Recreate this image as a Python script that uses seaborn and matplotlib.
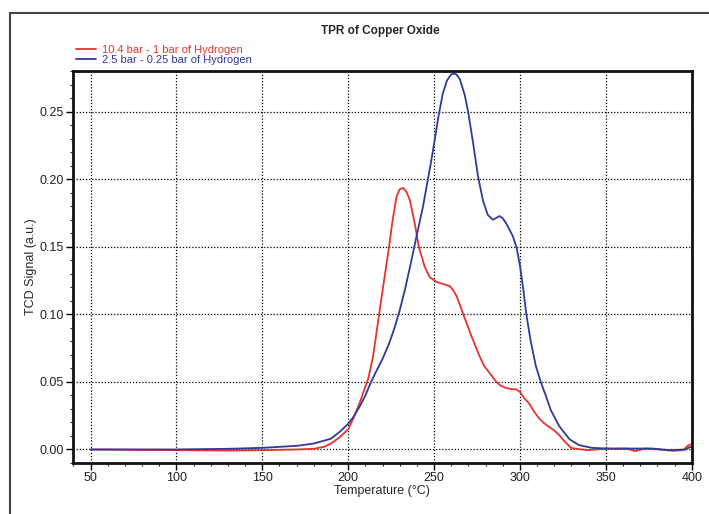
import numpy as np
import pandas as pd
import matplotlib
matplotlib.use("Agg")
import matplotlib.pyplot as plt
import seaborn as sns
from matplotlib.patches import Rectangle
from matplotlib.lines import Line2D
from matplotlib.ticker import MultipleLocator, FormatStrFormatter

# series
red_label = "10.4 bar - 1 bar of Hydrogen"
red_temp = [50, 100, 130, 150, 170, 180, 186, 190, 195, 200, 203, 206.8, 209, 211.6, 214.5,
            218, 220.3, 223.8, 225.8, 228.1, 230, 232, 234, 235.9, 238.8, 241.1, 244.6,
            247.5, 251.4, 255, 259.2, 261, 263.1, 265, 267, 271.7, 276.5, 279, 282.3,
            286.2, 289, 291.9, 295, 298, 300, 302.5, 305.4, 308, 311.2, 314, 317, 320,
            322.9, 326, 329.7, 334, 340, 350, 355, 362, 367, 373, 381, 389, 395, 398, 400]
red_signal = [0, -0.0005, -0.0008, -0.0005, 0, 0.0005, 0.002, 0.0044, 0.009, 0.015, 0.023,
              0.035, 0.043, 0.052, 0.069, 0.10, 0.12, 0.15, 0.169, 0.187, 0.1925, 0.1935,
              0.1905, 0.1845, 0.167, 0.15, 0.135, 0.1275, 0.124, 0.1225, 0.1209, 0.118,
              0.1135, 0.107, 0.10, 0.084, 0.069, 0.062, 0.0567, 0.05, 0.047, 0.0455,
              0.0447, 0.0444, 0.0426, 0.038, 0.034, 0.0285, 0.0229, 0.0195, 0.0167, 0.014,
              0.0106, 0.006, 0.0012, 0.0003, -0.0005, 0.0007, 0.0005, 0.0007, -0.0012,
              0.0007, 0, -0.001, -0.0005, 0.003, 0.004]

blue_label = "2.5 bar - 0.25 bar of Hydrogen"
blue_temp = [50, 100, 130, 150, 170, 180, 190, 195, 200, 203, 206.8, 210, 213, 216, 220,
             224, 227, 230, 233, 236.5, 240, 243.6, 246, 248, 250, 252.5, 255, 257.5, 260,
             261.5, 263, 265, 267.9, 269.8, 272.7, 275.6, 278.5, 281.3, 284.2, 286.5,
             288.1, 290, 291.9, 295.8, 298.1, 300, 302, 303.7, 306.3, 309.2, 312.1, 315,
             318, 323, 329, 334.5, 342, 350, 364, 377, 387, 396.5, 398.5, 400]
blue_signal = [0, 0, 0.0005, 0.0012, 0.0027, 0.0044, 0.008, 0.013, 0.019, 0.024, 0.032,
               0.040, 0.049, 0.057, 0.067, 0.079, 0.090, 0.103, 0.118, 0.138, 0.159, 0.180,
               0.197, 0.211, 0.226, 0.246, 0.263, 0.273, 0.2775, 0.278, 0.2775, 0.274,
               0.262, 0.25, 0.227, 0.202, 0.184, 0.1735, 0.170, 0.1715, 0.1727, 0.171,
               0.1675, 0.158, 0.149, 0.136, 0.118, 0.10, 0.08, 0.062, 0.05, 0.04, 0.029,
               0.017, 0.0074, 0.0032, 0.0012, 0.0007, 0.0007, 0.0007, -0.0005, 0, 0.0015,
               0.002]

df = pd.concat([
    pd.DataFrame({"Temperature": red_temp, "Signal": red_signal, "run": red_label}),
    pd.DataFrame({"Temperature": blue_temp, "Signal": blue_signal, "run": blue_label}),
])
colors = {red_label: "#e8322e", blue_label: "#303a98"}

sns.set_style("white")
plt.rcParams["font.family"] = ["Liberation Sans", "DejaVu Sans"]

fig = plt.figure(figsize=(7.09, 5.14), dpi=100)
ax = fig.add_axes([72.7 / 709, 1 - 463 / 514, (691.7 - 72.7) / 709, (463 - 71) / 514])

sns.lineplot(data=df, x="Temperature", y="Signal", hue="run", palette=colors,
             sort=False, linewidth=1.3, ax=ax, legend=False)

ax.set_xlim(39.6, 400)
ax.set_ylim(-0.010, 0.280)
ax.xaxis.set_major_locator(MultipleLocator(50))
ax.xaxis.set_minor_locator(MultipleLocator(10))
ax.yaxis.set_major_locator(MultipleLocator(0.05))
ax.yaxis.set_minor_locator(MultipleLocator(0.01))
ax.yaxis.set_major_formatter(FormatStrFormatter("%.2f"))
ax.grid(True, which="major", color="black", linestyle=(0, (1, 1.5)), linewidth=0.9)
ax.tick_params(which="major", direction="out", length=5, width=1, labelsize=9, pad=1.5,
               left=True, bottom=True, colors="black", labelcolor="#222222")
ax.tick_params(which="minor", direction="out", length=2.5, width=0.8, left=True, bottom=True)
for s in ax.spines.values():
    s.set_color("#111111")
    s.set_linewidth(2)

ax.set_xlabel("Temperature (°C)", fontsize=9)
ax.set_ylabel("TCD Signal (a.u.)", fontsize=9)
ax.xaxis.set_label_coords(0.5, -0.055)
ax.yaxis.set_label_coords(-0.057, 0.5)

fig.text(0.536, 0.94, "TPR of Copper Oxide", ha="center", va="center",
         fontsize=8.5, fontweight="bold")

# legend with coloured text, above the axes on the left
handles = [Line2D([], [], color=colors[red_label], linewidth=1.3),
           Line2D([], [], color=colors[blue_label], linewidth=1.3)]
leg = fig.legend(handles, [red_label, blue_label], loc="upper left",
                 bbox_to_anchor=(70 / 709, 1 - 39 / 514), frameon=False, fontsize=8,
                 handlelength=1.8, handletextpad=0.6, labelspacing=0.0, borderpad=0)
for txt, lab in zip(leg.get_texts(), [red_label, blue_label]):
    txt.set_color(colors[lab])

# outer frame of the original window
fig.patches.append(Rectangle((10 / 709, -0.2), 1.2, 0.2 + 1 - 13 / 514,
                             transform=fig.transFigure, fill=False,
                             edgecolor="#444444", linewidth=1.5))

fig.savefig("out.png", dpi=100)
